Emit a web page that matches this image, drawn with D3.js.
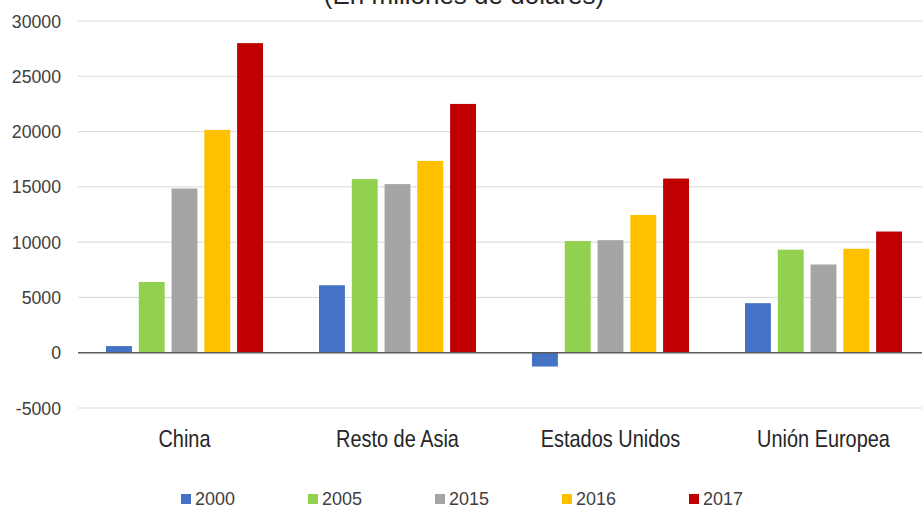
<!DOCTYPE html>
<html>
<head>
<meta charset="utf-8">
<script src="https://cdn.jsdelivr.net/npm/d3@7"></script>
<style>
  html, body { margin: 0; padding: 0; background: #fff; }
  svg { display: block; }
</style>
</head>
<body>
<svg id="chart" width="922" height="508"></svg>
<script>
const title = "(En millones de dólares)";
const categories = ["China", "Resto de Asia", "Estados Unidos", "Unión Europea"];
const years = ["2000", "2005", "2015", "2016", "2017"];
const colors = ["#4472C4", "#92D050", "#A5A5A5", "#FFC000", "#C00000"];
const v2000 = [600, 6100, -1250, 4480];
const v2005 = [6400, 15700, 10100, 9320];
const v2015 = [14850, 15250, 10180, 7980];
const v2016 = [20150, 17350, 12460, 9400];
const v2017 = [28000, 22500, 15750, 10960];
const series = [v2000, v2005, v2015, v2016, v2017];
const yTicks = [-5000, 0, 5000, 10000, 15000, 20000, 25000, 30000];

const svg = d3.select("#chart");
const plotLeft = 78, plotRight = 930, plotTop = 21, plotBottom = 408;

const y = d3.scaleLinear().domain([-5000, 30000]).range([plotBottom, plotTop]);
const x0 = d3.scaleBand().domain(categories).range([plotLeft, plotRight])
  .paddingInner(0.263).paddingOuter(0.1315);
const x1 = d3.scaleBand().domain(years).range([0, x0.bandwidth()])
  .paddingInner(0.21).paddingOuter(0);
const color = d3.scaleOrdinal().domain(years).range(colors);

// title (cut off at top, as in the source)
svg.append("text")
  .attr("x", 464).attr("y", 4)
  .attr("text-anchor", "middle")
  .attr("font-family", "Liberation Sans, Arial, sans-serif")
  .attr("font-size", 26)
  .attr("fill", "#262626")
  .text(title);

// gridlines
svg.append("g").selectAll("line")
  .data(yTicks.filter(d => d !== 0))
  .join("line")
  .attr("x1", plotLeft).attr("x2", 922)
  .attr("y1", d => y(d)).attr("y2", d => y(d))
  .attr("stroke", "#d9d9d9").attr("stroke-width", 1);

// y axis labels
const yAxis = d3.axisLeft(y).tickValues(yTicks).tickSize(0).tickPadding(0).tickFormat(d => String(d));
const gy = svg.append("g").attr("transform", `translate(61,0)`).call(yAxis);
gy.select(".domain").remove();
gy.selectAll("text")
  .attr("font-family", "Liberation Sans, Arial, sans-serif")
  .attr("font-size", 17.7)
  .attr("fill", "#404040")
  .attr("dy", "0.34em");

// bars
const groups = svg.append("g").selectAll("g")
  .data(categories)
  .join("g")
  .attr("transform", d => `translate(${x0(d)},0)`);

groups.selectAll("rect")
  .data((c, ci) => years.map((yr, si) => ({ yr, v: series[si][ci] })))
  .join("rect")
  .attr("x", d => x1(d.yr))
  .attr("width", x1.bandwidth())
  .attr("y", d => y(Math.max(0, d.v)))
  .attr("height", d => Math.abs(y(d.v) - y(0)))
  .attr("fill", d => color(d.yr));

// zero line
svg.append("line")
  .attr("x1", plotLeft).attr("x2", 922)
  .attr("y1", y(0)).attr("y2", y(0))
  .attr("stroke", "#595959").attr("stroke-width", 1.5);

// category labels
const xAxis = d3.axisBottom(x0).tickSize(0).tickPadding(0);
const gx = svg.append("g").attr("transform", `translate(0,447)`).call(xAxis);
gx.select(".domain").remove();
gx.selectAll("text")
  .attr("font-family", "Liberation Sans, Arial, sans-serif")
  .attr("font-size", 24)
  .attr("fill", "#262626")
  .attr("y", 0)
  .attr("dy", 0)
  .attr("transform", "scale(0.83,1)");

// legend
const legend = svg.append("g").selectAll("g")
  .data(years)
  .join("g")
  .attr("transform", (d, i) => `translate(${181 + i * 127},0)`);
legend.append("rect")
  .attr("x", 0).attr("y", 494).attr("width", 10).attr("height", 10)
  .attr("fill", d => color(d));
legend.append("text")
  .attr("x", 14).attr("y", 505)
  .attr("font-family", "Liberation Sans, Arial, sans-serif")
  .attr("font-size", 18.5)
  .attr("fill", "#404040")
  .attr("textLength", 40)
  .attr("lengthAdjust", "spacingAndGlyphs")
  .text(d => d);
</script>
</body>
</html>
